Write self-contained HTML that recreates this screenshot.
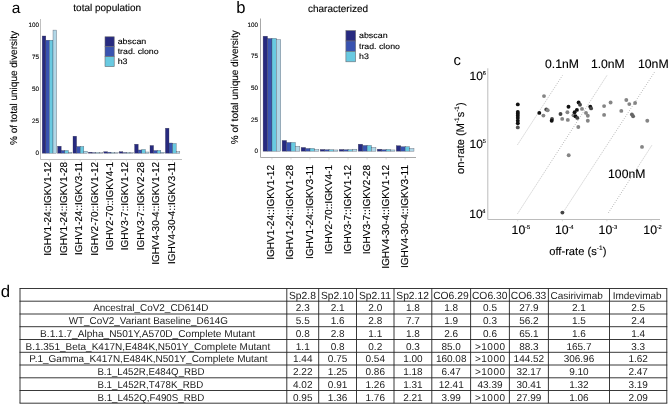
<!DOCTYPE html>
<html><head><meta charset="utf-8"><title>figure</title>
<style>html,body{margin:0;padding:0;background:#fff}body{width:669px;height:405px;overflow:hidden;font-family:"Liberation Sans",sans-serif}svg{will-change:transform;text-rendering:geometricPrecision}text{stroke:#000;stroke-width:.12px}.tb text{stroke:none;fill:#1c1c1c}</style></head>
<body>
<svg width="669" height="405" viewBox="0 0 669 405" style="display:block">
<rect width="669" height="405" fill="#fff"/>
<g font-family="Liberation Sans, sans-serif">
<text x="11.8" y="12.6" font-size="15.5" text-anchor="start" fill="#000" style="stroke:none">a</text>
<text x="73.3" y="10.6" font-size="10" text-anchor="start" fill="#000" >total population</text>
<path d="M40.5 19 V159.5 H182" fill="none" stroke="#c0c0c0" stroke-width="1"/>
<text x="39.0" y="154.75" font-size="6.3" text-anchor="end" fill="#000" >0</text>
<text x="39.0" y="122.78" font-size="6.3" text-anchor="end" fill="#000" >25</text>
<text x="39.0" y="90.8" font-size="6.3" text-anchor="end" fill="#000" >50</text>
<text x="39.0" y="58.82" font-size="6.3" text-anchor="end" fill="#000" >75</text>
<text x="39.0" y="26.85" font-size="6.3" text-anchor="end" fill="#000" >100</text>
<rect x="42.20" y="36.00" width="3.60" height="117.20" fill="#272a80" stroke="#333344" stroke-opacity="0.7" stroke-width="0.42"/>
<rect x="45.80" y="40.20" width="3.60" height="113.00" fill="#3953b0" stroke="#333344" stroke-opacity="0.7" stroke-width="0.42"/>
<rect x="49.40" y="40.20" width="3.60" height="113.00" fill="#69cae1" stroke="#333344" stroke-opacity="0.7" stroke-width="0.42"/>
<rect x="53.00" y="30.10" width="3.60" height="123.10" fill="#b1d7e7" stroke="#333344" stroke-opacity="0.7" stroke-width="0.42"/>
<path d="M49.40 160 v1.5" stroke="#d0d0d0" stroke-width="0.8"/>
<text transform="translate(51.3,161.9) rotate(-90)" font-size="10" text-anchor="end" fill="#000" >IGHV1-24::IGKV1-12</text>
<rect x="57.60" y="146.20" width="3.60" height="7.00" fill="#272a80" stroke="#333344" stroke-opacity="0.7" stroke-width="0.42"/>
<rect x="61.20" y="150.50" width="3.60" height="2.70" fill="#3953b0" stroke="#333344" stroke-opacity="0.7" stroke-width="0.42"/>
<rect x="64.80" y="150.50" width="3.60" height="2.70" fill="#69cae1" stroke="#333344" stroke-opacity="0.7" stroke-width="0.42"/>
<rect x="68.40" y="152.20" width="3.60" height="1.00" fill="#b1d7e7" stroke="#333344" stroke-opacity="0.7" stroke-width="0.42"/>
<path d="M64.80 160 v1.5" stroke="#d0d0d0" stroke-width="0.8"/>
<text transform="translate(66.7,161.9) rotate(-90)" font-size="10" text-anchor="end" fill="#000" >IGHV1-24::IGKV1-28</text>
<rect x="73.00" y="136.20" width="3.60" height="17.00" fill="#272a80" stroke="#333344" stroke-opacity="0.7" stroke-width="0.42"/>
<rect x="76.60" y="146.50" width="3.60" height="6.70" fill="#3953b0" stroke="#333344" stroke-opacity="0.7" stroke-width="0.42"/>
<rect x="80.20" y="146.50" width="3.60" height="6.70" fill="#69cae1" stroke="#333344" stroke-opacity="0.7" stroke-width="0.42"/>
<rect x="83.80" y="151.20" width="3.60" height="2.00" fill="#b1d7e7" stroke="#333344" stroke-opacity="0.7" stroke-width="0.42"/>
<path d="M80.20 160 v1.5" stroke="#d0d0d0" stroke-width="0.8"/>
<text transform="translate(82.1,161.9) rotate(-90)" font-size="10" text-anchor="end" fill="#000" >IGHV1-24::IGKV3-11</text>
<rect x="88.40" y="152.20" width="3.60" height="1.00" fill="#272a80" stroke="#333344" stroke-opacity="0.7" stroke-width="0.42"/>
<rect x="92.00" y="152.60" width="3.60" height="0.60" fill="#3953b0" stroke="#333344" stroke-opacity="0.7" stroke-width="0.42"/>
<rect x="95.60" y="152.70" width="3.60" height="0.50" fill="#69cae1" stroke="#333344" stroke-opacity="0.7" stroke-width="0.42"/>
<rect x="99.20" y="152.70" width="3.60" height="0.50" fill="#b1d7e7" stroke="#333344" stroke-opacity="0.7" stroke-width="0.42"/>
<path d="M95.60 160 v1.5" stroke="#d0d0d0" stroke-width="0.8"/>
<text transform="translate(97.5,161.9) rotate(-90)" font-size="10" text-anchor="end" fill="#000" >IGHV2-70::IGKV1-12</text>
<rect x="103.80" y="151.70" width="3.60" height="1.50" fill="#272a80" stroke="#333344" stroke-opacity="0.7" stroke-width="0.42"/>
<rect x="107.40" y="152.20" width="3.60" height="1.00" fill="#3953b0" stroke="#333344" stroke-opacity="0.7" stroke-width="0.42"/>
<rect x="111.00" y="152.70" width="3.60" height="0.50" fill="#69cae1" stroke="#333344" stroke-opacity="0.7" stroke-width="0.42"/>
<rect x="114.60" y="152.70" width="3.60" height="0.50" fill="#b1d7e7" stroke="#333344" stroke-opacity="0.7" stroke-width="0.42"/>
<path d="M111.00 160 v1.5" stroke="#d0d0d0" stroke-width="0.8"/>
<text transform="translate(112.9,161.9) rotate(-90)" font-size="10" text-anchor="end" fill="#000" >IGHV2-70::IGKV4-1</text>
<rect x="119.20" y="151.70" width="3.60" height="1.50" fill="#272a80" stroke="#333344" stroke-opacity="0.7" stroke-width="0.42"/>
<rect x="122.80" y="152.50" width="3.60" height="0.70" fill="#3953b0" stroke="#333344" stroke-opacity="0.7" stroke-width="0.42"/>
<rect x="126.40" y="152.70" width="3.60" height="0.50" fill="#69cae1" stroke="#333344" stroke-opacity="0.7" stroke-width="0.42"/>
<rect x="130.00" y="152.70" width="3.60" height="0.50" fill="#b1d7e7" stroke="#333344" stroke-opacity="0.7" stroke-width="0.42"/>
<path d="M126.40 160 v1.5" stroke="#d0d0d0" stroke-width="0.8"/>
<text transform="translate(128.3,161.9) rotate(-90)" font-size="10" text-anchor="end" fill="#000" >IGHV3-7::IGKV1-12</text>
<rect x="134.60" y="144.20" width="3.60" height="9.00" fill="#272a80" stroke="#333344" stroke-opacity="0.7" stroke-width="0.42"/>
<rect x="138.20" y="150.00" width="3.60" height="3.20" fill="#3953b0" stroke="#333344" stroke-opacity="0.7" stroke-width="0.42"/>
<rect x="141.80" y="149.50" width="3.60" height="3.70" fill="#69cae1" stroke="#333344" stroke-opacity="0.7" stroke-width="0.42"/>
<rect x="145.40" y="152.00" width="3.60" height="1.20" fill="#b1d7e7" stroke="#333344" stroke-opacity="0.7" stroke-width="0.42"/>
<path d="M141.80 160 v1.5" stroke="#d0d0d0" stroke-width="0.8"/>
<text transform="translate(143.7,161.9) rotate(-90)" font-size="10" text-anchor="end" fill="#000" >IGHV3-7::IGKV2-28</text>
<rect x="150.00" y="145.50" width="3.60" height="7.70" fill="#272a80" stroke="#333344" stroke-opacity="0.7" stroke-width="0.42"/>
<rect x="153.60" y="150.50" width="3.60" height="2.70" fill="#3953b0" stroke="#333344" stroke-opacity="0.7" stroke-width="0.42"/>
<rect x="157.20" y="150.50" width="3.60" height="2.70" fill="#69cae1" stroke="#333344" stroke-opacity="0.7" stroke-width="0.42"/>
<rect x="160.80" y="152.20" width="3.60" height="1.00" fill="#b1d7e7" stroke="#333344" stroke-opacity="0.7" stroke-width="0.42"/>
<path d="M157.20 160 v1.5" stroke="#d0d0d0" stroke-width="0.8"/>
<text transform="translate(159.1,161.9) rotate(-90)" font-size="10" text-anchor="end" fill="#000" >IGHV4-30-4::IGKV1-12</text>
<rect x="165.40" y="128.20" width="3.60" height="25.00" fill="#272a80" stroke="#333344" stroke-opacity="0.7" stroke-width="0.42"/>
<rect x="169.00" y="143.00" width="3.60" height="10.20" fill="#3953b0" stroke="#333344" stroke-opacity="0.7" stroke-width="0.42"/>
<rect x="172.60" y="143.50" width="3.60" height="9.70" fill="#69cae1" stroke="#333344" stroke-opacity="0.7" stroke-width="0.42"/>
<rect x="176.20" y="151.70" width="3.60" height="1.50" fill="#b1d7e7" stroke="#333344" stroke-opacity="0.7" stroke-width="0.42"/>
<path d="M172.60 160 v1.5" stroke="#d0d0d0" stroke-width="0.8"/>
<text transform="translate(174.5,161.9) rotate(-90)" font-size="10" text-anchor="end" fill="#000" >IGHV4-30-4::IGKV3-11</text>
<text transform="translate(17.2,88) rotate(-90)" font-size="10" text-anchor="middle" fill="#000" >% of total unique diversity</text>
<rect x="105" y="36.80" width="9.2" height="9.95" fill="#272a80" stroke="#6a6a70" stroke-width="0.6"/>
<text x="117.7" y="44.3" font-size="8.0" text-anchor="start" fill="#000" textLength="28.6" lengthAdjust="spacingAndGlyphs">abscan</text>
<rect x="105" y="46.75" width="9.2" height="9.95" fill="#3953b0" stroke="#6a6a70" stroke-width="0.6"/>
<text x="117.7" y="54.35" font-size="8.0" text-anchor="start" fill="#000" textLength="40.9" lengthAdjust="spacingAndGlyphs">trad. clono</text>
<rect x="105" y="56.70" width="9.2" height="9.95" fill="#69cae1" stroke="#6a6a70" stroke-width="0.6"/>
<text x="117.7" y="64.4" font-size="8.0" text-anchor="start" fill="#000" textLength="9.8" lengthAdjust="spacingAndGlyphs">h3</text>
<text x="236.3" y="13.2" font-size="16.6" text-anchor="start" fill="#000" style="stroke:none">b</text>
<text x="308" y="12.4" font-size="10" text-anchor="start" fill="#000" >characterized</text>
<path d="M260.5 18.5 V157.5 H416" fill="none" stroke="#a8a8a8" stroke-width="1"/>
<text x="258.1" y="153.15" font-size="6.3" text-anchor="end" fill="#000" >0</text>
<text x="258.1" y="121.58" font-size="6.3" text-anchor="end" fill="#000" >25</text>
<text x="258.1" y="90.0" font-size="6.3" text-anchor="end" fill="#000" >50</text>
<text x="258.1" y="58.42" font-size="6.3" text-anchor="end" fill="#000" >75</text>
<text x="258.1" y="26.85" font-size="6.3" text-anchor="end" fill="#000" >100</text>
<rect x="263.10" y="36.20" width="4.42" height="115.00" fill="#272a80" stroke="#333344" stroke-opacity="0.7" stroke-width="0.42"/>
<rect x="267.52" y="38.50" width="4.42" height="112.70" fill="#3953b0" stroke="#333344" stroke-opacity="0.7" stroke-width="0.42"/>
<rect x="271.94" y="38.40" width="4.42" height="112.80" fill="#69cae1" stroke="#333344" stroke-opacity="0.7" stroke-width="0.42"/>
<rect x="276.36" y="39.60" width="4.42" height="111.60" fill="#b1d7e7" stroke="#333344" stroke-opacity="0.7" stroke-width="0.42"/>
<path d="M271.94 158 v1.5" stroke="#d0d0d0" stroke-width="0.8"/>
<text transform="translate(274.44,164.9) rotate(-90)" font-size="10.12" text-anchor="end" fill="#000" >IGHV1-24::IGKV1-12</text>
<rect x="282.13" y="140.45" width="4.42" height="10.75" fill="#272a80" stroke="#333344" stroke-opacity="0.7" stroke-width="0.42"/>
<rect x="286.55" y="142.45" width="4.42" height="8.75" fill="#3953b0" stroke="#333344" stroke-opacity="0.7" stroke-width="0.42"/>
<rect x="290.97" y="142.45" width="4.42" height="8.75" fill="#69cae1" stroke="#333344" stroke-opacity="0.7" stroke-width="0.42"/>
<rect x="295.39" y="146.20" width="4.42" height="5.00" fill="#b1d7e7" stroke="#333344" stroke-opacity="0.7" stroke-width="0.42"/>
<path d="M290.97 158 v1.5" stroke="#d0d0d0" stroke-width="0.8"/>
<text transform="translate(293.47,164.9) rotate(-90)" font-size="10.12" text-anchor="end" fill="#000" >IGHV1-24::IGKV1-28</text>
<rect x="301.16" y="147.45" width="4.42" height="3.75" fill="#272a80" stroke="#333344" stroke-opacity="0.7" stroke-width="0.42"/>
<rect x="305.58" y="148.45" width="4.42" height="2.75" fill="#3953b0" stroke="#333344" stroke-opacity="0.7" stroke-width="0.42"/>
<rect x="310.00" y="148.45" width="4.42" height="2.75" fill="#69cae1" stroke="#333344" stroke-opacity="0.7" stroke-width="0.42"/>
<rect x="314.42" y="149.45" width="4.42" height="1.75" fill="#b1d7e7" stroke="#333344" stroke-opacity="0.7" stroke-width="0.42"/>
<path d="M310.00 158 v1.5" stroke="#d0d0d0" stroke-width="0.8"/>
<text transform="translate(312.5,164.9) rotate(-90)" font-size="10.12" text-anchor="end" fill="#000" >IGHV1-24::IGKV3-11</text>
<rect x="320.19" y="149.45" width="4.42" height="1.75" fill="#272a80" stroke="#333344" stroke-opacity="0.7" stroke-width="0.42"/>
<rect x="324.61" y="149.70" width="4.42" height="1.50" fill="#3953b0" stroke="#333344" stroke-opacity="0.7" stroke-width="0.42"/>
<rect x="329.03" y="149.70" width="4.42" height="1.50" fill="#69cae1" stroke="#333344" stroke-opacity="0.7" stroke-width="0.42"/>
<rect x="333.45" y="149.95" width="4.42" height="1.25" fill="#b1d7e7" stroke="#333344" stroke-opacity="0.7" stroke-width="0.42"/>
<path d="M329.03 158 v1.5" stroke="#d0d0d0" stroke-width="0.8"/>
<text transform="translate(331.53,164.9) rotate(-90)" font-size="10.12" text-anchor="end" fill="#000" >IGHV2-70::IGKV4-1</text>
<rect x="339.22" y="149.45" width="4.42" height="1.75" fill="#272a80" stroke="#333344" stroke-opacity="0.7" stroke-width="0.42"/>
<rect x="343.64" y="149.70" width="4.42" height="1.50" fill="#3953b0" stroke="#333344" stroke-opacity="0.7" stroke-width="0.42"/>
<rect x="348.06" y="149.70" width="4.42" height="1.50" fill="#69cae1" stroke="#333344" stroke-opacity="0.7" stroke-width="0.42"/>
<rect x="352.48" y="149.20" width="4.42" height="2.00" fill="#b1d7e7" stroke="#333344" stroke-opacity="0.7" stroke-width="0.42"/>
<path d="M348.06 158 v1.5" stroke="#d0d0d0" stroke-width="0.8"/>
<text transform="translate(350.56,164.9) rotate(-90)" font-size="10.12" text-anchor="end" fill="#000" >IGHV3-7::IGKV1-12</text>
<rect x="358.25" y="144.20" width="4.42" height="7.00" fill="#272a80" stroke="#333344" stroke-opacity="0.7" stroke-width="0.42"/>
<rect x="362.67" y="145.45" width="4.42" height="5.75" fill="#3953b0" stroke="#333344" stroke-opacity="0.7" stroke-width="0.42"/>
<rect x="367.09" y="145.45" width="4.42" height="5.75" fill="#69cae1" stroke="#333344" stroke-opacity="0.7" stroke-width="0.42"/>
<rect x="371.51" y="147.45" width="4.42" height="3.75" fill="#b1d7e7" stroke="#333344" stroke-opacity="0.7" stroke-width="0.42"/>
<path d="M367.09 158 v1.5" stroke="#d0d0d0" stroke-width="0.8"/>
<text transform="translate(369.59,164.9) rotate(-90)" font-size="10.12" text-anchor="end" fill="#000" >IGHV3-7::IGKV2-28</text>
<rect x="377.28" y="149.20" width="4.42" height="2.00" fill="#272a80" stroke="#333344" stroke-opacity="0.7" stroke-width="0.42"/>
<rect x="381.70" y="149.70" width="4.42" height="1.50" fill="#3953b0" stroke="#333344" stroke-opacity="0.7" stroke-width="0.42"/>
<rect x="386.12" y="149.45" width="4.42" height="1.75" fill="#69cae1" stroke="#333344" stroke-opacity="0.7" stroke-width="0.42"/>
<rect x="390.54" y="149.95" width="4.42" height="1.25" fill="#b1d7e7" stroke="#333344" stroke-opacity="0.7" stroke-width="0.42"/>
<path d="M386.12 158 v1.5" stroke="#d0d0d0" stroke-width="0.8"/>
<text transform="translate(388.62,164.9) rotate(-90)" font-size="10.12" text-anchor="end" fill="#000" >IGHV4-30-4::IGKV1-12</text>
<rect x="396.31" y="145.70" width="4.42" height="5.50" fill="#272a80" stroke="#333344" stroke-opacity="0.7" stroke-width="0.42"/>
<rect x="400.73" y="146.70" width="4.42" height="4.50" fill="#3953b0" stroke="#333344" stroke-opacity="0.7" stroke-width="0.42"/>
<rect x="405.15" y="146.70" width="4.42" height="4.50" fill="#69cae1" stroke="#333344" stroke-opacity="0.7" stroke-width="0.42"/>
<rect x="409.57" y="148.45" width="4.42" height="2.75" fill="#b1d7e7" stroke="#333344" stroke-opacity="0.7" stroke-width="0.42"/>
<path d="M405.15 158 v1.5" stroke="#d0d0d0" stroke-width="0.8"/>
<text transform="translate(407.65,164.9) rotate(-90)" font-size="10.12" text-anchor="end" fill="#000" >IGHV4-30-4::IGKV3-11</text>
<text transform="translate(237.5,87.2) rotate(-90)" font-size="10" text-anchor="middle" fill="#000" >% of total unique diversity</text>
<rect x="345.9" y="30.60" width="9.7" height="10.4" fill="#272a80" stroke="#6a6a70" stroke-width="0.6"/>
<text x="359.0" y="38.1" font-size="8.0" text-anchor="start" fill="#000" textLength="28.6" lengthAdjust="spacingAndGlyphs">abscan</text>
<rect x="345.9" y="41.00" width="9.7" height="10.4" fill="#3953b0" stroke="#6a6a70" stroke-width="0.6"/>
<text x="359.0" y="48.6" font-size="8.0" text-anchor="start" fill="#000" textLength="40.9" lengthAdjust="spacingAndGlyphs">trad. clono</text>
<rect x="345.9" y="51.40" width="9.7" height="10.4" fill="#69cae1" stroke="#6a6a70" stroke-width="0.6"/>
<text x="359.0" y="59.1" font-size="8.0" text-anchor="start" fill="#000" textLength="9.8" lengthAdjust="spacingAndGlyphs">h3</text>
<text x="453.4" y="64.6" font-size="14.8" text-anchor="start" fill="#000" style="stroke:none">c</text>
<path d="M487.8 68.3 V219.5 H660" fill="none" stroke="#bcbcbc" stroke-width="1"/>
<path d="M517.7 219.9 v1.4" stroke="#d8d8d8" stroke-width="0.9"/>
<path d="M562.4 219.9 v1.4" stroke="#d8d8d8" stroke-width="0.9"/>
<path d="M606.9 219.9 v1.4" stroke="#d8d8d8" stroke-width="0.9"/>
<path d="M651.1 219.9 v1.4" stroke="#d8d8d8" stroke-width="0.9"/>
<path d="M517.7 144.5 L562.4 75.5" stroke="#707070" stroke-width="0.55" stroke-dasharray="0.9 1.5" fill="none"/>
<path d="M517.7 213.5 L606.9 75.5" stroke="#707070" stroke-width="0.55" stroke-dasharray="0.9 1.5" fill="none"/>
<path d="M562.4 213.5 L654.6 72" stroke="#707070" stroke-width="0.55" stroke-dasharray="0.9 1.5" fill="none"/>
<path d="M608.3 213 L652.3 144.6" stroke="#707070" stroke-width="0.55" stroke-dasharray="0.9 1.5" fill="none"/>
<text x="511.6" y="234" font-size="12.3" text-anchor="start" fill="#000">10<tspan font-size="5.8" dx="-0.3" dy="-5.5">-5</tspan></text>
<text x="554.9" y="234" font-size="12.3" text-anchor="start" fill="#000">10<tspan font-size="5.8" dx="-0.3" dy="-5.5">-4</tspan></text>
<text x="598.6" y="234" font-size="12.3" text-anchor="start" fill="#000">10<tspan font-size="5.8" dx="-0.3" dy="-5.5">-3</tspan></text>
<text x="643.3" y="234" font-size="12.3" text-anchor="start" fill="#000">10<tspan font-size="5.8" dx="-0.3" dy="-5.5">-2</tspan></text>
<text x="469.6" y="80.1" font-size="12" text-anchor="start" fill="#000">10<tspan font-size="5.6" dx="-0.3" dy="-5.4">6</tspan></text>
<text x="469.6" y="148.2" font-size="12" text-anchor="start" fill="#000">10<tspan font-size="5.6" dx="-0.3" dy="-5.4">5</tspan></text>
<text x="469.3" y="218.3" font-size="12" text-anchor="start" fill="#000">10<tspan font-size="5.6" dx="-0.3" dy="-5.4">4</tspan></text>
<text x="545" y="68.2" font-size="12.2" text-anchor="start" fill="#000" >0.1nM</text>
<text x="590.9" y="68.2" font-size="12.2" text-anchor="start" fill="#000" >1.0nM</text>
<text x="637.9" y="68.2" font-size="12.3" text-anchor="start" fill="#000" >10nM</text>
<text x="608.1" y="178" font-size="12.2" text-anchor="start" fill="#000" >100nM</text>
<text x="549.2" y="254.7" font-size="11.2" fill="#000">off-rate (s<tspan font-size="6.5" dy="-4.5">-1</tspan><tspan dy="4.5">)</tspan></text>
<text transform="translate(463.6,173.9) rotate(-90)" font-size="11" fill="#000">on-rate (M<tspan font-size="6.5" dy="-4.5">-1</tspan><tspan dy="4.5">s</tspan><tspan font-size="6.5" dy="-4.5">-1</tspan><tspan dy="4.5">)</tspan></text>
<circle cx="517.8" cy="104.4" r="1.95" fill="#111"/>
<circle cx="517.8" cy="111.9" r="1.95" fill="#111"/>
<circle cx="517.8" cy="113.8" r="1.95" fill="#111"/>
<circle cx="517.8" cy="115.8" r="1.95" fill="#111"/>
<circle cx="517.8" cy="117.9" r="1.95" fill="#111"/>
<circle cx="517.8" cy="120.7" r="1.95" fill="#111"/>
<circle cx="517.8" cy="123.2" r="1.95" fill="#111"/>
<circle cx="517.8" cy="127.4" r="1.95" fill="#555"/>
<circle cx="544.0" cy="96.1" r="1.95" fill="#858585"/>
<circle cx="539.3" cy="112.9" r="1.95" fill="#111"/>
<circle cx="543.4" cy="115.6" r="1.95" fill="#858585"/>
<circle cx="546.3" cy="109.5" r="1.95" fill="#444"/>
<circle cx="547.7" cy="110.2" r="1.95" fill="#858585"/>
<circle cx="552" cy="118.9" r="1.95" fill="#444"/>
<circle cx="551.7" cy="120.7" r="1.95" fill="#111"/>
<circle cx="560.5" cy="114" r="1.95" fill="#444"/>
<circle cx="562.2" cy="118.9" r="1.95" fill="#858585"/>
<circle cx="567.4" cy="112.2" r="1.95" fill="#858585"/>
<circle cx="567.8" cy="119.9" r="1.95" fill="#858585"/>
<circle cx="568.5" cy="106.8" r="1.95" fill="#111"/>
<circle cx="573.5" cy="115.3" r="1.95" fill="#858585"/>
<circle cx="574.6" cy="112.2" r="1.95" fill="#111"/>
<circle cx="576.9" cy="109.9" r="1.95" fill="#111"/>
<circle cx="575.5" cy="116.3" r="1.95" fill="#111"/>
<circle cx="577.3" cy="117.9" r="1.95" fill="#444"/>
<circle cx="578.3" cy="127" r="1.95" fill="#858585"/>
<circle cx="578.6" cy="102.5" r="1.95" fill="#111"/>
<circle cx="580" cy="104.8" r="1.95" fill="#444"/>
<circle cx="582" cy="108.9" r="1.95" fill="#858585"/>
<circle cx="586" cy="112.9" r="1.95" fill="#858585"/>
<circle cx="587.8" cy="115.8" r="1.95" fill="#858585"/>
<circle cx="587.8" cy="120.7" r="1.95" fill="#858585"/>
<circle cx="590.3" cy="106.8" r="1.95" fill="#111"/>
<circle cx="591.1" cy="108.4" r="1.95" fill="#444"/>
<circle cx="604.1" cy="106.1" r="1.95" fill="#858585"/>
<circle cx="604.1" cy="114.9" r="1.95" fill="#858585"/>
<circle cx="610.6" cy="102.5" r="1.95" fill="#858585"/>
<circle cx="621.3" cy="110.9" r="1.95" fill="#858585"/>
<circle cx="626.3" cy="100" r="1.95" fill="#858585"/>
<circle cx="629.3" cy="104.1" r="1.95" fill="#858585"/>
<circle cx="631.9" cy="114.4" r="1.95" fill="#666"/>
<circle cx="633.1" cy="116.2" r="1.95" fill="#666"/>
<circle cx="635.1" cy="103" r="1.95" fill="#858585"/>
<circle cx="647.3" cy="120.7" r="1.95" fill="#858585"/>
<circle cx="642" cy="146.9" r="1.95" fill="#858585"/>
<circle cx="568.7" cy="155.3" r="1.95" fill="#858585"/>
<circle cx="562.4" cy="212.6" r="1.95" fill="#444"/>
<text x="0.8" y="297.1" font-size="16.8" text-anchor="start" fill="#000" style="stroke:none">d</text>
<path d="M19.55 288.5 H667.25 M19.55 301.2 H667.25 M19.55 314 H667.25 M19.55 326.7 H667.25 M19.55 339.5 H667.25 M19.55 352.3 H667.25 M19.55 365 H667.25 M19.55 377.8 H667.25 M19.55 390.5 H667.25 M19.55 403.2 H667.25 M20 288.5 V403.2 M286.8 288.5 V403.2 M318.7 288.5 V403.2 M356.5 288.5 V403.2 M394 288.5 V403.2 M431.8 288.5 V403.2 M470.6 288.5 V403.2 M509.4 288.5 V403.2 M548.4 288.5 V403.2 M609.5 288.5 V403.2 M666.8 288.5 V403.2 " stroke="#222" stroke-width="0.9" fill="none"/>
<g style="stroke-width:.08px" class="tb">
<text x="302.45" y="298.6" font-size="10.3" text-anchor="middle" fill="#000" >Sp2.8</text>
<text x="337.3" y="298.6" font-size="10.3" text-anchor="middle" fill="#000" >Sp2.10</text>
<text x="374.95" y="298.6" font-size="10.3" text-anchor="middle" fill="#000" >Sp2.11</text>
<text x="412.6" y="298.6" font-size="10.3" text-anchor="middle" fill="#000" >Sp2.12</text>
<text x="450.9" y="298.6" font-size="10.3" text-anchor="middle" fill="#000" >CO6.29</text>
<text x="489.7" y="298.6" font-size="10.3" text-anchor="middle" fill="#000" >CO6.30</text>
<text x="528.6" y="298.6" font-size="10.3" text-anchor="middle" fill="#000" >CO6.33</text>
<text x="576.65" y="298.6" font-size="10" text-anchor="middle" fill="#000" >Casirivimab</text>
<text x="637.15" y="298.6" font-size="10" text-anchor="middle" fill="#000" >Imdevimab</text>
<text x="93.17" y="311.3" font-size="10" text-anchor="start" fill="#000" textLength="115.30" lengthAdjust="spacingAndGlyphs" id="name0">Ancestral_CoV2_CD614D</text>
<text x="302.75" y="311.3" font-size="10" text-anchor="middle" fill="#000" >2.3</text>
<text x="337.6" y="311.3" font-size="10" text-anchor="middle" fill="#000" >2.1</text>
<text x="375.25" y="311.3" font-size="10" text-anchor="middle" fill="#000" >2.0</text>
<text x="412.9" y="311.3" font-size="10" text-anchor="middle" fill="#000" >1.8</text>
<text x="451.2" y="311.3" font-size="10" text-anchor="middle" fill="#000" >1.8</text>
<text x="490.0" y="311.3" font-size="10" text-anchor="middle" fill="#000" >0.5</text>
<text x="528.9" y="311.3" font-size="10" text-anchor="middle" fill="#000" >27.9</text>
<text x="578.95" y="311.3" font-size="10" text-anchor="middle" fill="#000" >2.1</text>
<text x="638.15" y="311.3" font-size="10" text-anchor="middle" fill="#000" >2.5</text>
<text x="68.72" y="324.0" font-size="10" text-anchor="start" fill="#000" textLength="159.19" lengthAdjust="spacingAndGlyphs" id="name1">WT_CoV2_Variant Baseline_D614G</text>
<text x="302.75" y="324.0" font-size="10" text-anchor="middle" fill="#000" >5.5</text>
<text x="337.6" y="324.0" font-size="10" text-anchor="middle" fill="#000" >1.6</text>
<text x="375.25" y="324.0" font-size="10" text-anchor="middle" fill="#000" >2.8</text>
<text x="412.9" y="324.0" font-size="10" text-anchor="middle" fill="#000" >7.7</text>
<text x="451.2" y="324.0" font-size="10" text-anchor="middle" fill="#000" >1.9</text>
<text x="490.0" y="324.0" font-size="10" text-anchor="middle" fill="#000" >0.3</text>
<text x="528.9" y="324.0" font-size="10" text-anchor="middle" fill="#000" >56.2</text>
<text x="578.95" y="324.0" font-size="10" text-anchor="middle" fill="#000" >1.5</text>
<text x="638.15" y="324.0" font-size="10" text-anchor="middle" fill="#000" >2.4</text>
<text x="40.09" y="336.8" font-size="10" text-anchor="start" fill="#000" textLength="215.15" lengthAdjust="spacingAndGlyphs" id="name2">B.1.1.7_Alpha_N501Y,A570D_Complete Mutant</text>
<text x="302.75" y="336.8" font-size="10" text-anchor="middle" fill="#000" >0.8</text>
<text x="337.6" y="336.8" font-size="10" text-anchor="middle" fill="#000" >2.8</text>
<text x="375.25" y="336.8" font-size="10" text-anchor="middle" fill="#000" >1.1</text>
<text x="412.9" y="336.8" font-size="10" text-anchor="middle" fill="#000" >1.8</text>
<text x="451.2" y="336.8" font-size="10" text-anchor="middle" fill="#000" >2.6</text>
<text x="490.0" y="336.8" font-size="10" text-anchor="middle" fill="#000" >0.6</text>
<text x="528.9" y="336.8" font-size="10" text-anchor="middle" fill="#000" >65.1</text>
<text x="578.95" y="336.8" font-size="10" text-anchor="middle" fill="#000" >1.6</text>
<text x="638.15" y="336.8" font-size="10" text-anchor="middle" fill="#000" >1.4</text>
<text x="25.49" y="349.6" font-size="10" text-anchor="start" fill="#000" textLength="244.72" lengthAdjust="spacingAndGlyphs" id="name3">B.1.351_Beta_K417N,E484K,N501Y_Complete Mutant</text>
<text x="302.75" y="349.6" font-size="10" text-anchor="middle" fill="#000" >1.1</text>
<text x="337.6" y="349.6" font-size="10" text-anchor="middle" fill="#000" >0.8</text>
<text x="375.25" y="349.6" font-size="10" text-anchor="middle" fill="#000" >0.2</text>
<text x="412.9" y="349.6" font-size="10" text-anchor="middle" fill="#000" >0.3</text>
<text x="451.2" y="349.6" font-size="10" text-anchor="middle" fill="#000" >85.0</text>
<text x="490.0" y="349.6" font-size="10" text-anchor="middle" fill="#000" textLength="30" lengthAdjust="spacing">&gt;1000</text>
<text x="528.9" y="349.6" font-size="10" text-anchor="middle" fill="#000" >88.3</text>
<text x="578.95" y="349.6" font-size="10" text-anchor="middle" fill="#000" >165.7</text>
<text x="638.15" y="349.6" font-size="10" text-anchor="middle" fill="#000" >3.3</text>
<text x="29.35" y="362.3" font-size="10" text-anchor="start" fill="#000" textLength="238.31" lengthAdjust="spacingAndGlyphs" id="name4">P.1_Gamma_K417N,E484K,N501Y_Complete Mutant</text>
<text x="302.75" y="362.3" font-size="10" text-anchor="middle" fill="#000" >1.44</text>
<text x="337.6" y="362.3" font-size="10" text-anchor="middle" fill="#000" >0.75</text>
<text x="375.25" y="362.3" font-size="10" text-anchor="middle" fill="#000" >0.54</text>
<text x="412.9" y="362.3" font-size="10" text-anchor="middle" fill="#000" >1.00</text>
<text x="451.2" y="362.3" font-size="10" text-anchor="middle" fill="#000" >160.08</text>
<text x="490.0" y="362.3" font-size="10" text-anchor="middle" fill="#000" textLength="30" lengthAdjust="spacing">&gt;1000</text>
<text x="528.9" y="362.3" font-size="10" text-anchor="middle" fill="#000" >144.52</text>
<text x="578.95" y="362.3" font-size="10" text-anchor="middle" fill="#000" >306.96</text>
<text x="638.15" y="362.3" font-size="10" text-anchor="middle" fill="#000" >1.62</text>
<text x="97.41" y="375.1" font-size="10" text-anchor="start" fill="#000" textLength="107.05" lengthAdjust="spacingAndGlyphs" id="name5">B.1_L452R,E484Q_RBD</text>
<text x="302.75" y="375.1" font-size="10" text-anchor="middle" fill="#000" >2.22</text>
<text x="337.6" y="375.1" font-size="10" text-anchor="middle" fill="#000" >1.25</text>
<text x="375.25" y="375.1" font-size="10" text-anchor="middle" fill="#000" >0.86</text>
<text x="412.9" y="375.1" font-size="10" text-anchor="middle" fill="#000" >1.18</text>
<text x="451.2" y="375.1" font-size="10" text-anchor="middle" fill="#000" >6.47</text>
<text x="490.0" y="375.1" font-size="10" text-anchor="middle" fill="#000" textLength="30" lengthAdjust="spacing">&gt;1000</text>
<text x="528.9" y="375.1" font-size="10" text-anchor="middle" fill="#000" >32.17</text>
<text x="578.95" y="375.1" font-size="10" text-anchor="middle" fill="#000" >9.10</text>
<text x="638.15" y="375.1" font-size="10" text-anchor="middle" fill="#000" >2.47</text>
<text x="97.41" y="387.8" font-size="10" text-anchor="start" fill="#000" textLength="105.91" lengthAdjust="spacingAndGlyphs" id="name6">B.1_L452R,T478K_RBD</text>
<text x="302.75" y="387.8" font-size="10" text-anchor="middle" fill="#000" >4.02</text>
<text x="337.6" y="387.8" font-size="10" text-anchor="middle" fill="#000" >0.91</text>
<text x="375.25" y="387.8" font-size="10" text-anchor="middle" fill="#000" >1.26</text>
<text x="412.9" y="387.8" font-size="10" text-anchor="middle" fill="#000" >1.31</text>
<text x="451.2" y="387.8" font-size="10" text-anchor="middle" fill="#000" >12.41</text>
<text x="490.0" y="387.8" font-size="10" text-anchor="middle" fill="#000" >43.39</text>
<text x="528.9" y="387.8" font-size="10" text-anchor="middle" fill="#000" >30.41</text>
<text x="578.95" y="387.8" font-size="10" text-anchor="middle" fill="#000" >1.32</text>
<text x="638.15" y="387.8" font-size="10" text-anchor="middle" fill="#000" >3.19</text>
<text x="97.41" y="400.5" font-size="10" text-anchor="start" fill="#000" textLength="106.95" lengthAdjust="spacingAndGlyphs" id="name7">B.1_L452Q,F490S_RBD</text>
<text x="302.75" y="400.5" font-size="10" text-anchor="middle" fill="#000" >0.95</text>
<text x="337.6" y="400.5" font-size="10" text-anchor="middle" fill="#000" >1.36</text>
<text x="375.25" y="400.5" font-size="10" text-anchor="middle" fill="#000" >1.76</text>
<text x="412.9" y="400.5" font-size="10" text-anchor="middle" fill="#000" >2.21</text>
<text x="451.2" y="400.5" font-size="10" text-anchor="middle" fill="#000" >3.99</text>
<text x="490.0" y="400.5" font-size="10" text-anchor="middle" fill="#000" textLength="30" lengthAdjust="spacing">&gt;1000</text>
<text x="528.9" y="400.5" font-size="10" text-anchor="middle" fill="#000" >27.99</text>
<text x="578.95" y="400.5" font-size="10" text-anchor="middle" fill="#000" >1.06</text>
<text x="638.15" y="400.5" font-size="10" text-anchor="middle" fill="#000" >2.09</text>
</g></g></svg>
</body></html>
